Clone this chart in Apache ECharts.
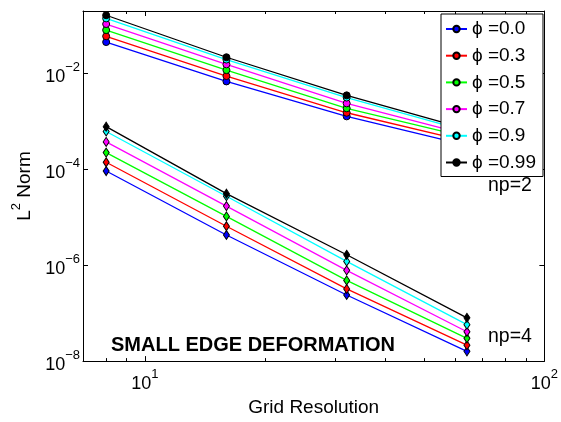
<!DOCTYPE html>
<html>
<head>
<meta charset="utf-8">
<script src="https://cdn.jsdelivr.net/npm/echarts@6/dist/echarts.min.js"></script>
<style>
  html, body { margin: 0; padding: 0; background: #fff; }
  #chart { width: 561px; height: 422px; }
</style>
</head>
<body>
<div id="chart"></div>
<script>
/* L2 norm vs grid resolution, log-log */
const gridRes = [8, 16, 32, 64];
const phiNames = ['ϕ =0.0', 'ϕ =0.3', 'ϕ =0.5', 'ϕ =0.7', 'ϕ =0.9', 'ϕ =0.99'];

// np=2 (circles)
const np2Phi00 = [0.045, 0.0068, 0.00127, 0.000317];
const np2Phi03 = [0.0594, 0.0088, 0.00151, 0.000384];
const np2Phi05 = [0.080, 0.0117, 0.00187, 0.000466];
const np2Phi07 = [0.107, 0.0154, 0.00237, 0.000531];
const np2Phi09 = [0.140, 0.0194, 0.00313, 0.000622];
const np2Phi099 = [0.163, 0.0217, 0.00348, 0.000686];

// np=4 (diamonds)
const np4Phi00 = [9.2e-5, 4.27e-6, 2.39e-7, 1.6e-8];
const np4Phi03 = [1.40e-4, 6.5e-6, 3.2e-7, 2.15e-8];
const np4Phi05 = [2.23e-4, 1.04e-5, 4.82e-7, 2.99e-8];
const np4Phi07 = [3.73e-4, 1.71e-5, 7.8e-7, 4.09e-8];
const np4Phi09 = [6.14e-4, 2.74e-5, 1.2e-6, 5.75e-8];
const np4Phi099 = [7.74e-4, 3.1e-5, 1.65e-6, 7.98e-8];

const xMajorTicks = [10, 100];
const xMinorTicks = [8, 9, 20, 30, 40, 50, 60, 70, 80, 90];
const yMajorTicks = [1e-8, 1e-6, 1e-4, 1e-2];

const np2Sets = [np2Phi00, np2Phi03, np2Phi05, np2Phi07, np2Phi09, np2Phi099];
const np4Sets = [np4Phi00, np4Phi03, np4Phi05, np4Phi07, np4Phi09, np4Phi099];
const colors = ['#0000ff', '#ff0000', '#00ff00', '#ff00ff', '#00ffff', '#000000'];

const FONT = "'Liberation Sans', Arial, Helvetica, sans-serif";
const X_MIN = 7, X_MAX = 100, Y_MIN = 1e-8, Y_MAX = 0.2;

const powLabel = v => {
  const e = Math.round(Math.log10(v));
  return '{b|10}{s|' + (e < 0 ? '\u2212' + (-e) : e) + '}';
};
const powRich = {
  b: { fontSize: 18, lineHeight: 25, verticalAlign: 'bottom', fontFamily: FONT, color: '#000' },
  s: { fontSize: 13, lineHeight: 13, verticalAlign: 'top', fontFamily: FONT, color: '#000' }
};

function xAxisDef(pos, ticks, len, main) {
  return {
    type: 'log', logBase: 10, min: X_MIN, max: X_MAX, position: pos,
    axisLine: { show: main, onZero: false, lineStyle: { color: '#000', width: 1 } },
    axisTick: { show: true, inside: true, length: len, customValues: ticks, lineStyle: { color: '#000' } },
    axisLabel: main && pos === 'bottom'
      ? { show: true, customValues: xMajorTicks, formatter: powLabel, rich: powRich, margin: 7 }
      : { show: false },
    splitLine: { show: false },
    name: main && pos === 'bottom' ? 'Grid Resolution' : '',
    nameLocation: 'middle', nameGap: 32,
    nameTextStyle: { fontSize: 19, fontFamily: FONT, color: '#000' }
  };
}

function yAxisDef(pos, main) {
  return {
    type: 'log', logBase: 10, min: Y_MIN, max: Y_MAX, position: pos,
    axisLine: { show: true, onZero: false, lineStyle: { color: '#000', width: 1 } },
    axisTick: { show: true, inside: true, length: 5, customValues: yMajorTicks, lineStyle: { color: '#000' } },
    axisLabel: main
      ? { show: true, customValues: yMajorTicks, formatter: powLabel, rich: powRich, margin: 3 }
      : { show: false },
    splitLine: { show: false },
    name: main ? '{b|L}{s|2}{b| Norm}' : '',
    nameLocation: 'middle', nameGap: 47,
    nameTextStyle: {
      fontFamily: FONT, color: '#000',
      rich: {
        b: { fontSize: 19, lineHeight: 24, verticalAlign: 'bottom', fontFamily: FONT, color: '#000' },
        s: { fontSize: 13, lineHeight: 13, verticalAlign: 'top', fontFamily: FONT, color: '#000' }
      }
    }
  };
}

const series = [];
np2Sets.forEach((vals, i) => {
  series.push({
    name: phiNames[i], type: 'line', xAxisIndex: 0, yAxisIndex: 0,
    data: gridRes.map((x, j) => [x, vals[j]]),
    symbol: 'circle', symbolSize: 7,
    lineStyle: { color: colors[i], width: 1.3 },
    itemStyle: { color: colors[i], borderColor: '#000', borderWidth: 1 },
    animation: false
  });
});
np4Sets.forEach((vals, i) => {
  series.push({
    name: phiNames[i], type: 'line', xAxisIndex: 0, yAxisIndex: 0,
    data: gridRes.map((x, j) => [x, vals[j]]),
    symbol: 'diamond', symbolSize: [6, 9],
    lineStyle: { color: colors[i], width: 1.3 },
    itemStyle: { color: colors[i], borderColor: '#000', borderWidth: 1 },
    animation: false
  });
});

const chart = echarts.init(document.getElementById('chart'));
chart.setOption({
  backgroundColor: '#fff',
  animation: false,
  grid: { left: 83, top: 11, right: 14, bottom: 51, containLabel: false },
  xAxis: [
    xAxisDef('bottom', xMinorTicks, 3, true),
    xAxisDef('bottom', xMajorTicks, 5, false),
    xAxisDef('top', xMinorTicks, 3, true),
    xAxisDef('top', xMajorTicks, 5, false)
  ],
  yAxis: [yAxisDef('left', true), yAxisDef('right', false)],
  legend: {
    data: phiNames,
    orient: 'vertical', left: 441, top: 14,
    backgroundColor: '#fff', borderColor: '#000', borderWidth: 1, borderRadius: 0,
    padding: [5, 7, 4, 4],
    itemWidth: 21, itemHeight: 8, itemGap: 6.7,
    textStyle: { fontSize: 19, lineHeight: 20, fontFamily: FONT, color: '#000' },
    selectedMode: false
  },
  graphic: [
    { type: 'text', left: 488, top: 176, style: { text: 'np=2', fontSize: 19.5, fontFamily: FONT, fill: '#000' } },
    { type: 'text', left: 488, top: 327, style: { text: 'np=4', fontSize: 19.5, fontFamily: FONT, fill: '#000' } },
    { type: 'text', left: 111, top: 335, style: { text: 'SMALL EDGE DEFORMATION', fontSize: 20, fontWeight: 'bold', fontFamily: FONT, fill: '#000' } }
  ],
  series: series
});
</script>
</body>
</html>
